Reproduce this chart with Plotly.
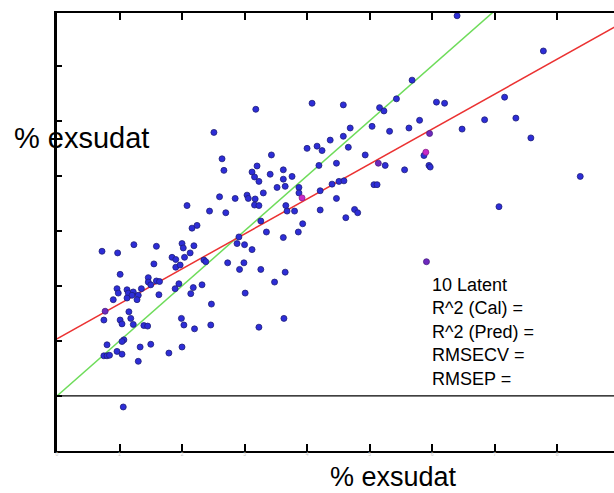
import plotly.graph_objects as go

# measured (x) vs predicted (y) values, blue samples
meas_blue = [2.51, 2.64, 2.67, 2.60, 2.85, 2.08, 3.18, 4.08, 4.58, 5.68, 5.43, 5.16, 5.23, 5.80, 5.04,
             5.32, 5.63, 4.69, 4.58, 4.37, 4.00, 4.16, 4.24, 4.66, 3.43, 4.93, 4.19, 4.47, 5.25, 3.20,
             3.12, 3.16, 3.23, 3.62, 3.41, 3.62, 3.76, 5.56, 3.52, 3.65, 3.87, 3.87, 4.21, 4.40, 4.51,
             4.59, 5.07, 5.12, 3.30, 3.04, 3.06, 3.17, 3.16, 3.23, 4.47, 3.66, 6.40, 7.78, 6.07, 6.20,
             7.16, 6.84, 7.34, 6.48, 7.58, 5.87, 5.95, 5.97, 8.37, 7.07, 2.44, 2.70, 2.16, 2.24, 0.72,
             0.97, 1.23, 1.59, 2.00, 2.02, 2.19, 2.13, 1.84, 1.90, 2.04, 2.91, 2.88, 1.55, 1.90, 1.97,
             2.35, 2.38, 2.73, 2.92, 1.01, 1.46, 1.46, 1.50, 1.59, 1.64, 1.95, 1.89, 2.32, 0.96, 0.98,
             1.12, 1.14, 1.22, 1.20, 1.12, 1.30, 1.28, 1.35, 0.90, 1.63, 2.18, 2.14, 0.75, 1.15, 2.47,
             1.01, 1.04, 1.18, 1.22, 1.39, 1.45, 1.99, 2.03, 2.20, 2.46, 0.80, 1.07, 1.04, 0.96, 1.04,
             0.75, 0.80, 0.84, 1.33, 1.50, 1.30, 1.79, 2.00, 1.06, 3.68, 3.80, 4.21, 4.76, 4.81, 4.62,
             3.26, 3.35, 3.93, 3.86, 3.62, 3.00, 3.12, 2.99, 3.26, 3.65, 3.48, 3.01, 3.63, 3.23]
pred_blue = [4.79, 4.31, 4.10, 3.62, 3.59, 3.46, 5.21, 5.32, 5.29, 5.74, 5.40, 5.24, 5.18, 5.01, 4.90,
             4.81, 4.87, 4.87, 4.72, 4.65, 4.50, 4.54, 4.46, 4.52, 4.38, 4.38, 4.19, 4.23, 4.19, 4.18,
             4.07, 3.98, 3.90, 4.11, 4.03, 3.94, 3.99, 4.11, 3.79, 3.81, 3.79, 3.69, 3.73, 3.85, 3.90,
             3.91, 3.84, 3.84, 3.69, 3.65, 3.59, 3.58, 3.47, 3.46, 3.59, 3.46, 6.91, 6.27, 5.34, 5.32,
             5.43, 5.02, 5.05, 4.85, 4.69, 4.37, 4.19, 4.16, 3.99, 3.44, 3.36, 3.33, 3.05, 3.10, 2.63,
             2.60, 2.75, 2.72, 2.77, 2.69, 2.73, 2.60, 2.52, 2.48, 2.52, 2.89, 2.77, 2.40, 2.34, 2.38,
             2.47, 2.44, 2.42, 2.30, 2.21, 2.15, 2.07, 2.02, 2.09, 2.08, 2.04, 1.95, 2.02, 1.95, 1.87,
             1.93, 1.87, 1.89, 1.83, 1.78, 1.83, 1.75, 1.95, 1.75, 1.84, 1.97, 1.86, 1.38, 1.53, 1.67,
             1.38, 1.31, 1.41, 1.30, 1.28, 1.27, 1.41, 1.29, 1.22, 1.29, 0.93, 1.02, 0.99, 0.81, 0.76,
             0.73, 0.73, 0.74, 0.89, 0.94, 0.63, 0.78, 0.89, -0.20, 3.36, 3.36, 3.38, 3.39, 3.33, 3.24,
             3.18, 2.98, 3.13, 2.98, 2.88, 2.75, 2.66, 2.42, 2.30, 2.25, 2.07, 1.87, 1.41, 1.25]

# purple / magenta samples
meas_purple = [5.14, 5.96, 0.77, 5.91]
pred_purple = [4.23, 4.77, 1.54, 2.44]
meas_magenta = [3.92, 5.90]
pred_magenta = [3.60, 4.43]

# regression fit line
fit_intercept = 1.04
fit_slope = 0.635

x_ticks = [0, 1, 2, 3, 4, 5, 6, 7, 8]
y_ticks = [-1, 0, 1, 2, 3, 4, 5, 6]
x_range = [0, 8.91]
y_range = [-1, 6.96]

stats_lines = ["10 Latent", "R^2 (Cal) =", "R^2 (Pred) =", "RMSECV =", "RMSEP ="]
axis_title = "% exsudat"

fig = go.Figure()

fig.add_trace(go.Scatter(x=[x_range[0], 10], y=[x_range[0], 10], mode="lines",
                         line=dict(color="rgb(110,220,90)", width=1.5), hoverinfo="skip"))
fig.add_trace(go.Scatter(x=[x_range[0], 10],
                         y=[fit_intercept + fit_slope * x_range[0], fit_intercept + fit_slope * 10],
                         mode="lines", line=dict(color="rgb(235,50,50)", width=1.5), hoverinfo="skip"))

fig.add_trace(go.Scatter(x=meas_blue, y=pred_blue, mode="markers", cliponaxis=False,
                         marker=dict(size=6, color="rgb(45,45,215)",
                                     line=dict(color="rgb(30,30,120)", width=0.8))))
fig.add_trace(go.Scatter(x=meas_purple, y=pred_purple, mode="markers", cliponaxis=False,
                         marker=dict(size=6, color="rgb(110,40,190)",
                                     line=dict(color="rgb(70,30,130)", width=0.8))))
fig.add_trace(go.Scatter(x=meas_magenta, y=pred_magenta, mode="markers", cliponaxis=False,
                         marker=dict(size=6, color="rgb(200,40,200)",
                                     line=dict(color="rgb(140,30,140)", width=0.8))))

fig.add_hline(y=0, line=dict(color="black", width=1.2))

fig.update_layout(
    width=614, height=493,
    margin=dict(l=57, r=0, t=13, b=42),
    plot_bgcolor="white", paper_bgcolor="white",
    showlegend=False,
    font=dict(family="Liberation Sans, Arial, sans-serif", color="black"),
)
fig.update_xaxes(range=x_range, tickvals=x_ticks, ticks="inside", ticklen=7, tickwidth=1.5,
                 tickcolor="black", showline=True, linecolor="black", linewidth=1.8,
                 mirror="ticks", showgrid=False, zeroline=False,
                 tickfont=dict(size=5, color="#c8c8c8"), ticklabelstandoff=-3)
fig.update_yaxes(range=y_range, tickvals=y_ticks, ticks="inside", ticklen=5, tickwidth=1.5,
                 tickcolor="black", showline=True, linecolor="black", linewidth=2.5,
                 showgrid=False, zeroline=False, showticklabels=False)

fig.add_annotation(text=axis_title, xref="paper", yref="paper", x=(12 - 57) / 557, y=(451 - 138) / 438,
                   xanchor="left", yanchor="middle", showarrow=False, font=dict(size=29))
fig.add_annotation(text=axis_title, xref="paper", yref="paper", x=(393 - 57) / 557, y=(451 - 494) / 438,
                   xanchor="center", yanchor="bottom", showarrow=False, font=dict(size=27))
fig.add_annotation(text="<br>".join(stats_lines), xref="paper", yref="paper",
                   x=(430 - 57) / 557, y=(451 - 273) / 438, xanchor="left", yanchor="top",
                   align="left", showarrow=False, font=dict(size=18))

fig.write_html("out.html")
